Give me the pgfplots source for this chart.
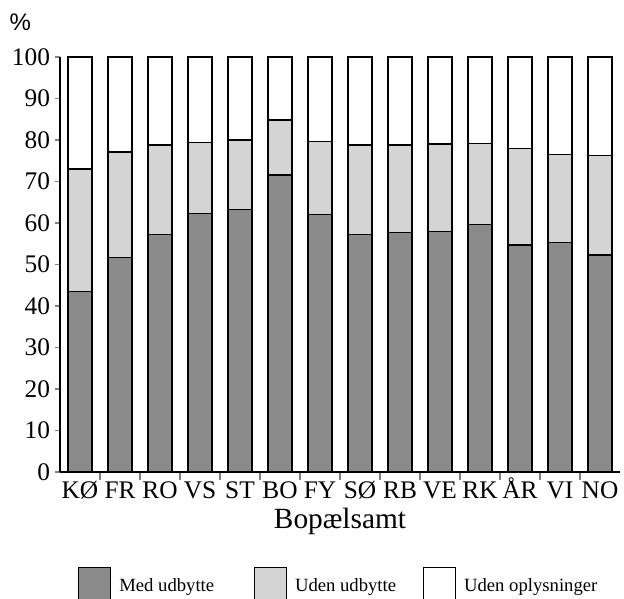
\documentclass[border=0pt]{standalone}
\usepackage{pgfplots}
\pgfplotsset{compat=1.18}
\usepackage{pgfplotstable}
\usepackage{fontspec}
\setmainfont{Liberation Serif}
\setsansfont{Liberation Sans}
\definecolor{dark}{gray}{0.54}
\definecolor{light}{gray}{0.83}
\pgfplotstableread{
x b m t
0 43.5 29.5 27.0
1 51.7 25.4 22.9
2 57.3 21.5 21.2
3 62.3 17.1 20.6
4 63.2 16.8 20.0
5 71.6 13.2 15.2
6 62.1 17.6 20.3
7 57.2 21.6 21.2
8 57.7 21.1 21.2
9 58.0 21.0 21.0
10 59.6 19.5 20.9
11 54.7 23.2 22.1
12 55.3 21.2 23.5
13 52.3 23.9 23.8
}\data
\begin{document}
\begin{tikzpicture}
\useasboundingbox (-45pt,-95.25pt) rectangle (423pt,354pt);
\begin{axis}[
  at={(0,0)}, anchor=south west,
  scale only axis, width=420pt, height=311.25pt,
  ybar stacked, bar width=18pt,
  xmin=-0.5, xmax=13.5, ymin=0, ymax=100,
  axis x line*=bottom, axis y line*=left,
  axis line style={-, line width=0.8pt},
  xtick={0,...,13},
  xticklabels={KØ,FR,RO,VS,ST,BO,FY,SØ,RB,VE,RK,ÅR,VI,NO},
  major x tick style={draw=none},
  minor xtick={0.5,1.5,...,12.5},
  minor tick length=6pt,
  minor x tick style={line width=0.8pt},
  ytick={0,10,...,100},
  tick align=outside, major tick length=4pt,
  ytick style={line width=0.8pt},
  /pgf/number format/assume math mode=true,
  tick label style={font=\fontsize{19}{21}\selectfont},
  xticklabel style={text height=13pt, text depth=0pt, yshift=1pt},
  xlabel={Bopælsamt},
  xlabel style={font=\fontsize{22}{24}\selectfont, at={(axis description cs:0.5,0)}, anchor=center, yshift=-37pt},
  ylabel={\%},
  ylabel style={font=\sffamily\fontsize{18}{20}\selectfont, rotate=-90, at={(axis description cs:-0.071,1.084)}, anchor=center},
  legend columns=3,
  legend style={at={(0,0)}, anchor=west, xshift=13.5pt, yshift=-85pt, draw=none, inner sep=0pt,
    font=\fontsize{14}{16}\selectfont,
    /tikz/every odd column/.style={column sep=4pt}},
  legend image code/.code={\draw[#1, line width=0.8pt] (0pt,-13pt) rectangle (24pt,14pt);},
]
\addplot[fill=dark, draw=black, line width=1pt] table[x=x, y=b] {\data};
\addplot[fill=light, draw=black, line width=1pt] table[x=x, y=m] {\data};
\addplot[fill=white, draw=black, line width=1pt] table[x=x, y=t] {\data};
\legend{\makebox[99pt][l]{Med udbytte},\makebox[94pt][l]{Uden udbytte},Uden oplysninger}
\end{axis}
\end{tikzpicture}
\end{document}
